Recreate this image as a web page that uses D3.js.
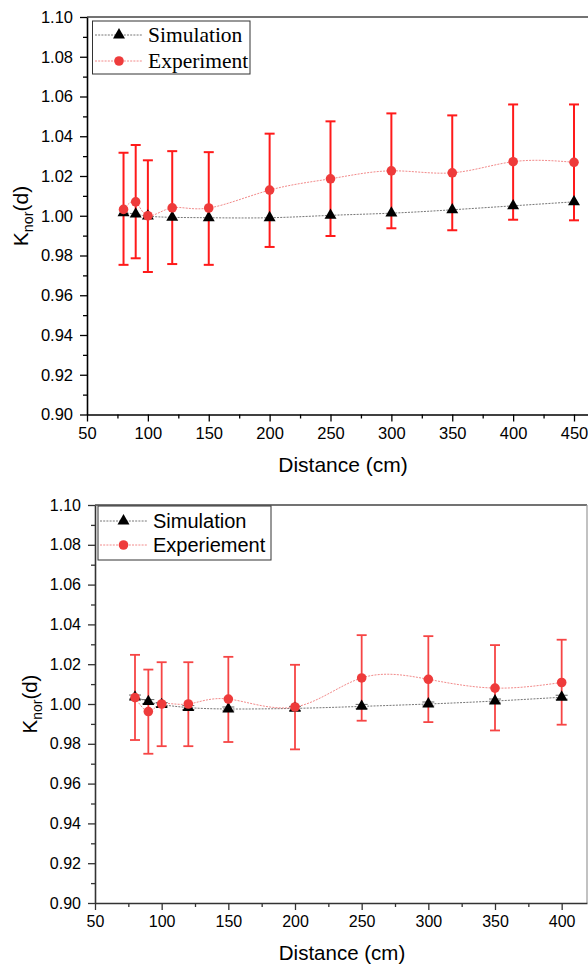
<!DOCTYPE html>
<html>
<head>
<meta charset="utf-8">
<script src="https://cdn.jsdelivr.net/npm/d3@7"></script>
<style>
  html, body { margin: 0; padding: 0; background: #fff; }
  svg { display: block; }
</style>
</head>
<body>
<svg id="chart" width="588" height="967"></svg>
<script>
// ---------- Panel 1 data ----------
const distances1 = [80, 90, 100, 120, 150, 200, 250, 300, 350, 400, 450];
const sim1       = [1.0015, 1.0008, 0.9998, 0.9992, 0.9990, 0.9990, 1.0002, 1.0013, 1.0030, 1.0050, 1.0070];
const exp1       = [1.0032, 1.0070, 1.0000, 1.0040, 1.0039, 1.0129, 1.0186, 1.0226, 1.0216, 1.0272, 1.0269];
const exp1Upper  = [1.0317, 1.0356, 1.0279, 1.0325, 1.0320, 1.0413, 1.0475, 1.0515, 1.0505, 1.0560, 1.0560];
const exp1Lower  = [0.9753, 0.9786, 0.9717, 0.9757, 0.9753, 0.9843, 0.9898, 0.9937, 0.9927, 0.9980, 0.9977];

// ---------- Panel 2 data ----------
const distances2 = [80, 90, 100, 120, 150, 200, 250, 300, 350, 400];
const sim2       = [1.0035, 1.0012, 0.9997, 0.9982, 0.9975, 0.9978, 0.9988, 1.0000, 1.0015, 1.0034];
const sim2Err    = [0.0010, 0.0010, 0.0010, 0.0010, 0.0010, 0.0010, 0.0010, 0.0010, 0.0010, 0.0010];
const exp2       = [1.0032, 0.9962, 1.0000, 1.0000, 1.0025, 0.9985, 1.0131, 1.0124, 1.0080, 1.0108];
const exp2Upper  = [1.0247, 1.0173, 1.0210, 1.0210, 1.0237, 1.0197, 1.0346, 1.0341, 1.0296, 1.0323];
const exp2Lower  = [0.9819, 0.9750, 0.9788, 0.9788, 0.9809, 0.9772, 0.9916, 0.9909, 0.9867, 0.9896];

// ---------- Axis tick values ----------
const xMajor1 = [50, 100, 150, 200, 250, 300, 350, 400, 450];
const xMinor1 = [75, 125, 175, 225, 275, 325, 375, 425];
const xMajor2 = [50, 100, 150, 200, 250, 300, 350, 400];
const xMinor2 = [75, 125, 175, 225, 275, 325, 375];
const yMajor  = [0.90, 0.92, 0.94, 0.96, 0.98, 1.00, 1.02, 1.04, 1.06, 1.08, 1.10];
const yMinor  = [0.91, 0.93, 0.95, 0.97, 0.99, 1.01, 1.03, 1.05, 1.07, 1.09];

const seriesNames1 = ["Simulation", "Experiment"];
const seriesNames2 = ["Simulation", "Experiement"];
const xTitle = "Distance (cm)";

const svg = d3.select("#chart");

function drawPanel(cfg) {
  const g = svg.append("g");
  const x = d3.scaleLinear().domain(cfg.xDomain).range(cfg.xRange);
  const y = d3.scaleLinear().domain([0.90, 1.10]).range(cfg.yRange);
  const x0 = cfg.xRange[0], x1 = cfg.xRange[1];
  const y0 = cfg.yRange[0], y1 = cfg.yRange[1];
  const tickFont = "Arial, 'Liberation Sans', sans-serif";

  // frame (top / right)
  g.append("line").attr("x1", x0).attr("x2", x1).attr("y1", y1).attr("y2", y1)
    .attr("stroke", "#444").attr("stroke-width", 1.6);
  if (cfg.rightBorder) {
    g.append("line").attr("x1", x1).attr("x2", x1).attr("y1", y1).attr("y2", y0)
      .attr("stroke", "#999").attr("stroke-width", 1.2);
  }

  // x axis
  const xAx = g.append("g").attr("transform", `translate(0,${y0})`)
    .call(d3.axisBottom(x).tickValues(cfg.xMajor).tickSize(7).tickPadding(6).tickSizeOuter(0).tickFormat(d3.format("d")));
  xAx.select(".domain").attr("stroke", cfg.axisColor).attr("stroke-width", 1.6);
  xAx.selectAll(".tick line").attr("stroke", cfg.axisColor).attr("stroke-width", 1.3);
  xAx.selectAll("text").attr("font-family", tickFont).attr("font-size", cfg.tickSize).attr("fill", "#000");
  const xAxMin = g.append("g").attr("transform", `translate(0,${y0})`)
    .call(d3.axisBottom(x).tickValues(cfg.xMinor).tickSize(4).tickSizeOuter(0).tickFormat(""));
  xAxMin.select(".domain").remove();
  xAxMin.selectAll(".tick line").attr("stroke", cfg.axisColor).attr("stroke-width", 1.3);

  // y axis
  const yAx = g.append("g").attr("transform", `translate(${x0},0)`)
    .call(d3.axisLeft(y).tickValues(yMajor).tickSize(7).tickPadding(7).tickSizeOuter(0).tickFormat(d3.format(".2f")));
  yAx.select(".domain").attr("stroke", cfg.axisColor).attr("stroke-width", 1.6);
  yAx.selectAll(".tick line").attr("stroke", cfg.axisColor).attr("stroke-width", 1.3);
  yAx.selectAll("text").attr("font-family", tickFont).attr("font-size", cfg.tickSize).attr("fill", "#000");
  const yAxMin = g.append("g").attr("transform", `translate(${x0},0)`)
    .call(d3.axisLeft(y).tickValues(yMinor).tickSize(4).tickSizeOuter(0).tickFormat(""));
  yAxMin.select(".domain").remove();
  yAxMin.selectAll(".tick line").attr("stroke", cfg.axisColor).attr("stroke-width", 1.3);

  // axis titles
  g.append("text").attr("x", cfg.xTitlePos[0]).attr("y", cfg.xTitlePos[1])
    .attr("text-anchor", "middle").attr("font-family", tickFont).attr("font-size", cfg.titleSize)
    .text(xTitle);
  const yt = g.append("text")
    .attr("transform", `translate(${cfg.yTitlePos[0]},${cfg.yTitlePos[1]}) rotate(-90)`)
    .attr("text-anchor", "middle").attr("font-family", tickFont).attr("font-size", cfg.yTitleSize);
  yt.append("tspan").text("K");
  yt.append("tspan").attr("font-size", cfg.yTitleSize * 0.68).attr("dy", 5).text("nor");
  yt.append("tspan").attr("dy", -5).text("(d)");

  const simPts = cfg.dist.map((d, i) => [d, cfg.sim[i]]);
  const expPts = cfg.dist.map((d, i) => [d, cfg.exp[i]]);
  const line = d3.line().x(d => x(d[0])).y(d => y(d[1])).curve(d3.curveNatural);

  // connecting curves
  g.append("path").attr("d", line(simPts)).attr("fill", "none")
    .attr("stroke", "#777").attr("stroke-width", 1).attr("stroke-dasharray", "2,1.2");
  g.append("path").attr("d", line(expPts)).attr("fill", "none")
    .attr("stroke", "#f28a8a").attr("stroke-width", 1).attr("stroke-dasharray", "2,1.2");

  // sim error bars (panel 2)
  if (cfg.simErr) {
    const se = g.append("g").attr("stroke", "#666").attr("stroke-width", 1);
    cfg.dist.forEach((d, i) => {
      const cx = x(d), ya = y(cfg.sim[i] + cfg.simErr[i]), yb = y(cfg.sim[i] - cfg.simErr[i]);
      se.append("line").attr("x1", cx).attr("x2", cx).attr("y1", ya).attr("y2", yb);
      se.append("line").attr("x1", cx - 6).attr("x2", cx + 6).attr("y1", ya).attr("y2", ya);
      se.append("line").attr("x1", cx - 6).attr("x2", cx + 6).attr("y1", yb).attr("y2", yb);
    });
  }

  // experiment error bars
  const eb = g.append("g").attr("stroke", cfg.errColor).attr("stroke-width", cfg.errWidth);
  cfg.dist.forEach((d, i) => {
    const cx = x(d), ya = y(cfg.up[i]), yb = y(cfg.lo[i]);
    eb.append("line").attr("x1", cx).attr("x2", cx).attr("y1", ya).attr("y2", yb);
    eb.append("line").attr("x1", cx - 5).attr("x2", cx + 5).attr("y1", ya).attr("y2", ya);
    eb.append("line").attr("x1", cx - 5).attr("x2", cx + 5).attr("y1", yb).attr("y2", yb);
  });

  // markers
  const tri = d3.symbol().type(d3.symbolTriangle).size(62);
  g.selectAll(null).data(simPts).join("path")
    .attr("d", tri).attr("transform", d => `translate(${x(d[0])},${y(d[1])})`).attr("fill", "#000");
  g.selectAll(null).data(expPts).join("circle")
    .attr("cx", d => x(d[0])).attr("cy", d => y(d[1])).attr("r", 4.8).attr("fill", "#ee3b3b");

  // legend
  const L = cfg.legend;
  g.append("rect").attr("x", L.x).attr("y", L.y).attr("width", L.w).attr("height", L.h)
    .attr("fill", "#fff").attr("stroke", "#333").attr("stroke-width", 1);
  const rows = [
    { name: cfg.names[0], color: "#777", kind: "tri" },
    { name: cfg.names[1], color: "#f28a8a", kind: "circ" }
  ];
  rows.forEach((r, i) => {
    const ly = L.rowY[i];
    g.append("line").attr("x1", L.lineX[0]).attr("x2", L.lineX[1]).attr("y1", ly).attr("y2", ly)
      .attr("stroke", r.color).attr("stroke-width", 1).attr("stroke-dasharray", "2,1.2");
    const mx = (L.lineX[0] + L.lineX[1]) / 2;
    if (r.kind === "tri") {
      g.append("path").attr("d", tri).attr("transform", `translate(${mx},${ly})`).attr("fill", "#000");
    } else {
      g.append("circle").attr("cx", mx).attr("cy", ly).attr("r", 4.8).attr("fill", "#ee3b3b");
    }
    g.append("text").attr("x", L.textX).attr("y", ly + L.baseOff)
      .attr("font-family", L.font).attr("font-size", L.size).attr("fill", "#000").text(r.name);
  });
}

drawPanel({
  dist: distances1, sim: sim1, exp: exp1, up: exp1Upper, lo: exp1Lower,
  xDomain: [50, 461.5], xRange: [87, 588], yRange: [414.5, 17],
  xMajor: xMajor1, xMinor: xMinor1, axisColor: "#000", rightBorder: false,
  tickSize: 16.5, titleSize: 21, yTitleSize: 21,
  xTitlePos: [343, 472], yTitlePos: [28, 216],
  errColor: "#ff1a1a", errWidth: 2,
  names: seriesNames1,
  legend: { x: 92.5, y: 21, w: 157.5, h: 53, rowY: [35, 61], lineX: [95, 143], textX: 148,
            baseOff: 7, font: "'Liberation Serif', 'Times New Roman', serif", size: 21.5 }
});

drawPanel({
  dist: distances2, sim: sim2, simErr: sim2Err, exp: exp2, up: exp2Upper, lo: exp2Lower,
  xDomain: [50, 419], xRange: [95, 587], yRange: [903, 505],
  xMajor: xMajor2, xMinor: xMinor2, axisColor: "#333", rightBorder: true,
  tickSize: 16, titleSize: 20.5, yTitleSize: 20.5,
  xTitlePos: [342, 960], yTitlePos: [37, 704],
  errColor: "#f64545", errWidth: 1.8,
  names: seriesNames2,
  legend: { x: 98, y: 506, w: 173, h: 54, rowY: [521, 545], lineX: [100, 147], textX: 153,
            baseOff: 7, font: "Arial, 'Liberation Sans', sans-serif", size: 20 }
});
</script>
</body>
</html>
